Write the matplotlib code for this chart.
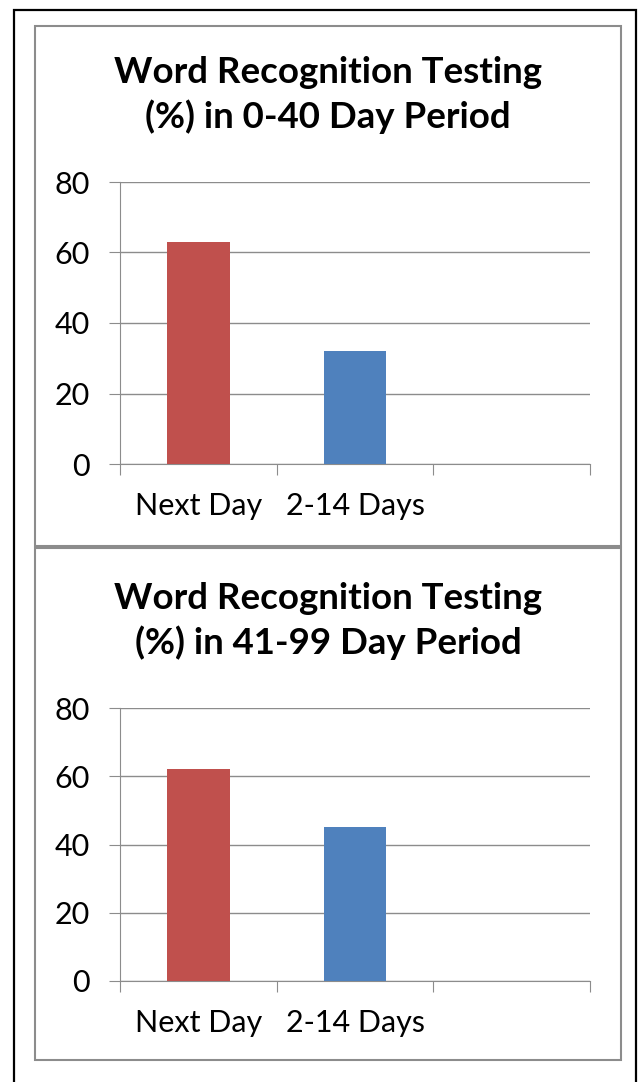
import matplotlib
matplotlib.use("Agg")
import matplotlib.pyplot as plt
from matplotlib.patches import Rectangle
from matplotlib.ticker import FixedLocator, NullFormatter, FixedFormatter

plt.rcParams['font.family'] = ['Lato', 'DejaVu Sans']

categories = ["Next Day", "2-14 Days", ""]
values_0_40 = [63, 32]
values_41_99 = [62, 45]
bar_colors = ["#C0504D", "#4F81BD"]
titles = ["Word Recognition Testing\n(%) in 0-40 Day Period",
          "Word Recognition Testing\n(%) in 41-99 Day Period"]
yticks = [0, 20, 40, 60, 80]

W, H = 642, 1082
fig = plt.figure(figsize=(W / 100, H / 100), dpi=100)

def fx(px): return px / W
def fy(py): return 1 - py / H

# outer black frame (bottom edge runs off the page) and the two grey chart frames
fig.patches.append(Rectangle((fx(14), fy(1095)), fx(636) - fx(14), fy(10) - fy(1095),
                             transform=fig.transFigure, fill=False, ec="black", lw=1.6))
for top, bot in [(26, 546), (548, 1060)]:
    fig.patches.append(Rectangle((fx(35), fy(bot)), fx(621) - fx(35), fy(top) - fy(bot),
                                 transform=fig.transFigure, fill=False, ec="#8c8c8c", lw=1.5))

# (axes top px, axes bottom px, title y px)
layouts = [(182, 464, 95), (708, 981, 621)]
grid_c = "#8c8c8c"

for (top, bot, ty), vals, title in zip(layouts, [values_0_40, values_41_99], titles):
    ax = fig.add_axes([fx(120), fy(bot), fx(590) - fx(120), fy(top) - fy(bot)])
    xs = [i + 0.5 for i in range(len(vals))]
    ax.bar(xs, vals, width=0.4, color=bar_colors[:len(vals)], zorder=3)
    ax.set_xlim(0, len(categories))
    ax.set_ylim(0, 80)
    ax.set_yticks(yticks)
    ax.tick_params(axis="y", direction="out", length=8, color=grid_c, labelsize=22, pad=14)
    ax.grid(axis="y", color=grid_c, lw=1, zorder=0)
    ax.xaxis.set_major_locator(FixedLocator(range(len(categories) + 1)))
    ax.xaxis.set_major_formatter(NullFormatter())
    ax.xaxis.set_minor_locator(FixedLocator([i + 0.5 for i in range(len(categories))]))
    ax.xaxis.set_minor_formatter(FixedFormatter(categories))
    ax.tick_params(axis="x", which="major", direction="out", length=8, color=grid_c)
    ax.tick_params(axis="x", which="minor", length=0, labelsize=22, pad=20)
    for s in ["top", "right"]:
        ax.spines[s].set_visible(False)
    for s in ["left", "bottom"]:
        ax.spines[s].set_color(grid_c)
    fig.text(fx(328), fy(ty), title, ha="center", va="center", fontsize=26.4,
             fontweight="bold", linespacing=1.35)

fig.savefig("out.png", dpi=100)
